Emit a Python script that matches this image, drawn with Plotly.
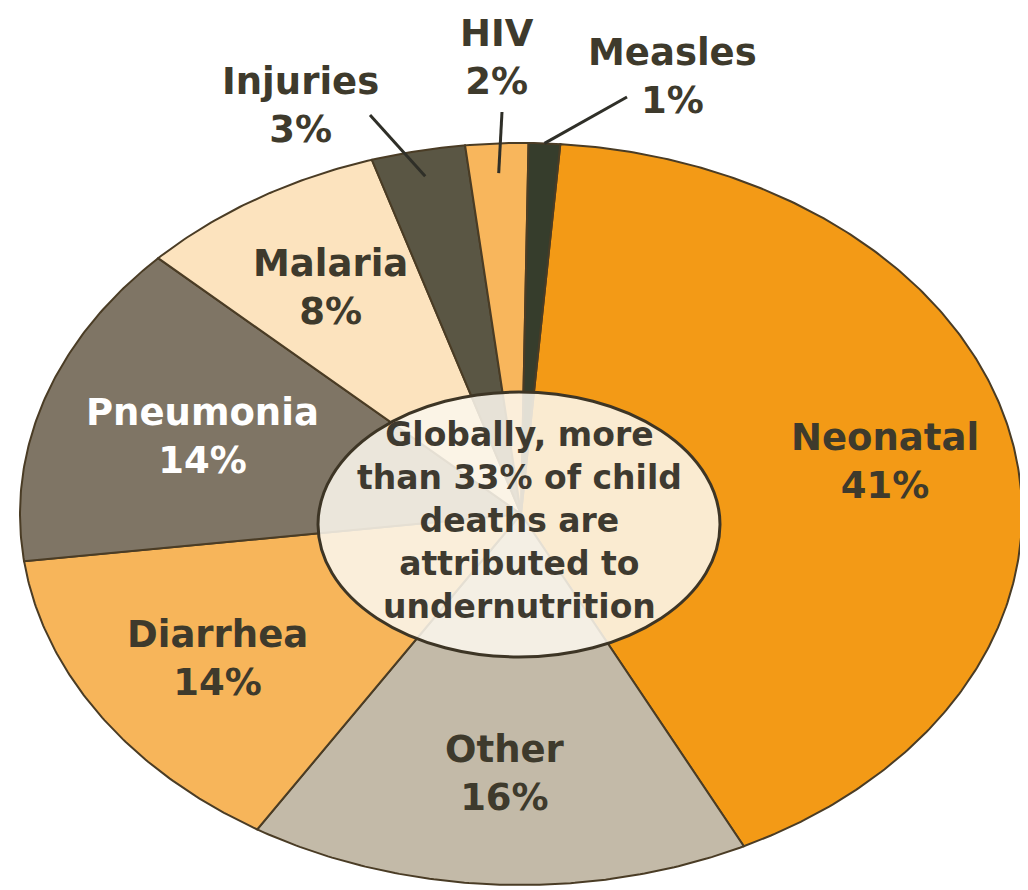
import numpy as np
import plotly.graph_objects as go

# ---- data ----
categories = ["Neonatal", "Other", "Diarrhea", "Pneumonia", "Malaria", "Injuries", "HIV", "Measles"]
values = [41, 16, 14, 14, 8, 3, 2, 1]
center_text = "Globally, more<br>than 33% of child<br>deaths are<br>attributed to<br>undernutrition"

# ---- styles / layout constants ----
colors = ["#F39A16", "#C3BAA8", "#F7B55A", "#7F7565", "#FCE3BE", "#5A5644", "#F8B65C", "#363D2C"]
label_colors = ["#3E3A2C", "#3E3A2C", "#3E3A2C", "#FFFFFF", "#3E3A2C", "#3E3A2C", "#3E3A2C", "#3E3A2C"]
W, H = 1028, 890
OFF = 8                    # default page body margin
CX, CY = 521, 514          # pie centre (px)
RX, RY = 501, 371          # pie radii (px) - elliptical pie
ROT = 4.5                  # start angle, degrees clockwise from top
inside = [True, True, True, True, True, False, False, False]
label_r = [0.74, 0.70, 0.72, 0.67, 0.72, 0, 0, 0]
outside_pos = {"Injuries": (300, 105), "HIV": (497, 57), "Measles": (672, 76)}
leader_start = {"Injuries": (370, 115), "HIV": (502, 112), "Measles": (627, 97)}
leader_r = {"Injuries": 0.93, "HIV": 0.92, "Measles": 1.0}


def pt(t_deg, r):
    t = np.radians(t_deg)
    return CX + RX * r * np.sin(t), CY - RY * r * np.cos(t)


fig = go.Figure()
total = float(sum(values))
start = ROT
annotations = []
shapes = []
for i, (cat, v) in enumerate(zip(categories, values)):
    span = v / total * 360.0
    ts = np.linspace(start, start + span, max(int(span * 2), 4))
    xs, ys = pt(ts, 1.0)
    px = np.concatenate([[CX], xs, [CX]])
    py = np.concatenate([[CY], ys, [CY]])
    fig.add_trace(go.Scatter(
        x=px, y=py, mode="lines", fill="toself", fillcolor=colors[i],
        line=dict(color="#4A3C25", width=2), name=cat, hoverinfo="name",
        showlegend=False))
    mid = start + span / 2
    txt = f"{cat}<br>{v}%"
    if inside[i]:
        lx, ly = pt(mid, label_r[i])
    else:
        lx, ly = outside_pos[cat]
        sx, sy = leader_start[cat]
        ex, ey = pt(mid, leader_r[cat])
        shapes.append(dict(type="line", x0=sx, y0=sy, x1=float(ex), y1=float(ey),
                           line=dict(color="#2F2F28", width=3), layer="above"))
    annotations.append(dict(x=float(lx), y=float(ly), text=txt, showarrow=False,
                            font=dict(family="DejaVu Sans", size=37, color=label_colors[i],
                                      weight="bold"),
                            align="center", xanchor="center", yanchor="middle"))
    start += span

# centre ellipse
shapes.append(dict(type="circle", x0=318, x1=720, y0=392, y1=657,
                   fillcolor="rgba(251,246,236,0.88)",
                   line=dict(color="#3D3525", width=3), layer="above"))
annotations.append(dict(x=519, y=520, text=center_text, showarrow=False,
                        font=dict(family="DejaVu Sans", size=33, color="#3E3A30", weight="bold"),
                        align="center", xanchor="center", yanchor="middle"))

fig.update_layout(
    width=W - OFF, height=H - OFF,
    margin=dict(l=0, r=0, t=0, b=0),
    paper_bgcolor="white", plot_bgcolor="white",
    xaxis=dict(range=[OFF, W], visible=False, fixedrange=True),
    yaxis=dict(range=[H, OFF], visible=False, fixedrange=True),
    shapes=shapes, annotations=annotations,
)
fig.write_html("out.html")
